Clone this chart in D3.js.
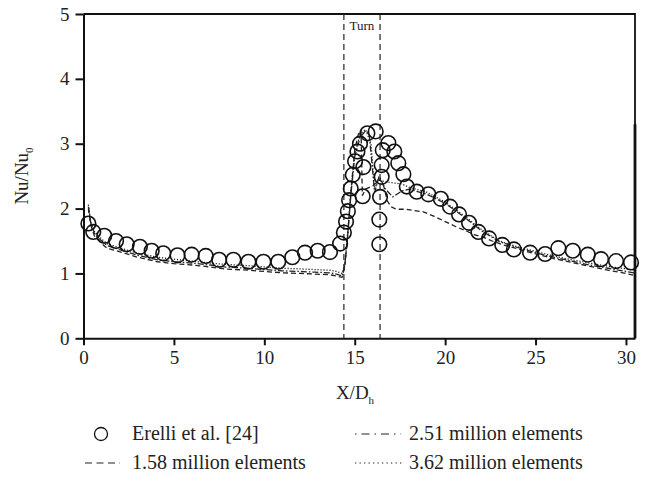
<!DOCTYPE html>
<meta charset="utf-8">
<title>Nu/Nu0 grid study</title>
<style>
body { margin: 0; background: #fff; }
svg text { font-family: "Liberation Serif", "Times New Roman", Tinos, "DejaVu Serif", "Noto Serif", serif; fill: #222; }
</style>
<body>
<script src="https://cdn.jsdelivr.net/npm/d3@7"></script>
<script>
var width = 647, height = 477;
var serif = '"Liberation Serif", "Times New Roman", Tinos, "DejaVu Serif", "Noto Serif", serif';

// Erelli et al. [24] (circles)
var expX = [0.27, 0.54, 1.15, 1.8, 2.39, 3.12, 3.77, 4.41, 5.2, 5.98, 6.76, 7.5, 8.29, 9.12, 9.95, 10.77,
  11.55, 12.25, 12.95, 13.63, 14.19, 14.4, 14.52, 14.62, 14.69, 14.78, 14.89, 15.02, 15.15, 15.29, 15.48,
  15.44, 15.7, 16.16, 16.49, 16.49, 16.4, 16.36, 16.36, 16.55, 16.86, 17.19, 17.41, 17.69, 17.88, 18.43,
  19.07, 19.76, 20.27, 20.77, 21.32, 21.84, 22.43, 23.16, 23.8, 24.7, 25.53, 26.26, 27.06, 27.89, 28.62,
  29.45, 30.28];
var expY = [1.77, 1.64, 1.58, 1.5, 1.45, 1.41, 1.35, 1.31, 1.28, 1.29, 1.27, 1.21, 1.21, 1.18, 1.18, 1.18,
  1.25, 1.32, 1.35, 1.33, 1.46, 1.63, 1.8, 1.96, 2.13, 2.31, 2.52, 2.73, 2.88, 3.0, 2.64,
  2.19, 3.16, 3.19, 2.67, 2.49, 2.18, 1.83, 1.45, 2.9, 3.01, 2.88, 2.7, 2.53, 2.34, 2.26,
  2.22, 2.15, 2.03, 1.91, 1.78, 1.64, 1.54, 1.44, 1.37, 1.32, 1.3, 1.39, 1.35, 1.29, 1.22,
  1.19, 1.17];

// 1.58 million elements (dashed)
var m158X = [0.27, 0.4, 0.6, 1.0, 1.3, 2.3, 3.0, 4.1, 5.0, 6.0, 7.0, 7.8, 9.1, 10.0, 11.0, 12.0, 12.8, 13.6,
  14.0, 14.3, 14.45, 14.6, 14.8, 15.0, 15.2, 15.35, 15.42, 15.6, 16.0, 16.4, 16.6, 16.8, 17.0, 17.3, 17.8,
  18.3, 18.8, 19.4, 20.0, 20.6, 21.2, 21.6, 22.1, 22.6, 23.2, 24.0, 25.0, 26.0, 27.0, 28.0, 29.0, 30.0, 30.45];
var m158Y = [2.0, 1.75, 1.58, 1.46, 1.39, 1.31, 1.25, 1.18, 1.15, 1.13, 1.1, 1.07, 1.05, 1.03, 1.01, 1.0, 0.99, 0.98,
  0.96, 0.94, 1.1, 1.55, 2.3, 2.9, 3.15, 3.2, 2.2, 2.3, 2.35, 2.45, 2.35, 2.12, 2.03, 1.99, 1.99,
  1.97, 1.95, 1.88, 1.8, 1.72, 1.65, 1.6, 1.56, 1.5, 1.44, 1.38, 1.3, 1.23, 1.17, 1.11, 1.05, 1.0, 0.97];

// 2.51 million elements (dash-dot)
var m251X = [0.27, 0.4, 0.6, 1.0, 1.3, 2.3, 3.0, 4.1, 5.0, 6.0, 7.0, 7.8, 9.1, 10.0, 11.0, 12.0, 12.8, 13.6,
  14.0, 14.3, 14.45, 14.6, 14.8, 15.0, 15.3, 15.6, 15.8, 16.1, 16.35, 16.7, 17.1, 17.6, 18.0, 19.0, 20.0,
  21.0, 22.0, 23.0, 24.0, 25.0, 26.0, 27.0, 28.0, 29.0, 30.0, 30.45];
var m251Y = [2.03, 1.78, 1.62, 1.5, 1.43, 1.34, 1.28, 1.21, 1.18, 1.16, 1.13, 1.1, 1.08, 1.06, 1.04, 1.03, 1.02, 1.01,
  0.99, 0.96, 1.12, 1.55, 2.25, 2.8, 3.1, 3.2, 3.15, 2.25, 2.5, 2.3, 2.18, 2.27, 2.3, 2.22, 2.08,
  1.88, 1.66, 1.49, 1.4, 1.32, 1.25, 1.19, 1.13, 1.08, 1.03, 1.01];

// 3.62 million elements (dotted)
var m362X = [0.27, 0.4, 0.6, 1.0, 1.3, 2.3, 3.0, 4.1, 5.0, 6.0, 7.0, 7.8, 9.1, 10.0, 11.0, 12.0, 12.8, 13.6,
  14.0, 14.3, 14.45, 14.6, 14.8, 15.0, 15.3, 15.6, 15.9, 16.1, 16.3, 16.6, 17.0, 17.6, 18.0, 19.0, 20.0,
  21.0, 22.0, 23.0, 24.0, 25.0, 26.0, 27.0, 28.0, 29.0, 30.0, 30.45];
var m362Y = [2.06, 1.8, 1.65, 1.53, 1.46, 1.37, 1.31, 1.25, 1.22, 1.19, 1.16, 1.14, 1.12, 1.1, 1.08, 1.07, 1.06, 1.05,
  1.03, 1.0, 1.15, 1.6, 2.3, 2.85, 3.15, 3.22, 3.0, 2.3, 2.45, 2.42, 2.4, 2.38, 2.33, 2.25, 2.1,
  1.9, 1.68, 1.5, 1.41, 1.34, 1.27, 1.21, 1.16, 1.11, 1.07, 1.05];

var turnX = [14.4, 16.4];
var xTicks = [0, 5, 10, 15, 20, 25, 30];
var yTicks = [0, 1, 2, 3, 4, 5];

var svg = d3.select('body').append('svg')
    .attr('width', width)
    .attr('height', height)
    .attr('font-family', serif);

var x = d3.scaleLinear().domain([0, 30.5]).range([83.5, 635]);
var y = d3.scaleLinear().domain([0, 5]).range([338.3, 14]);

// frame (top + right)
svg.append('path')
    .attr('d', 'M' + x(0) + ',' + y(5) + 'H' + x(30.5) + 'V' + y(0))
    .attr('fill', 'none')
    .attr('stroke', '#111')
    .attr('stroke-width', 1.8);
svg.append('line')
    .attr('x1', x(30.5)).attr('x2', x(30.5))
    .attr('y1', y(3.3)).attr('y2', y(0))
    .attr('stroke', '#111')
    .attr('stroke-width', 2.8);

// turn region
svg.selectAll('line.turn')
    .data(turnX)
  .enter().append('line')
    .attr('class', 'turn')
    .attr('x1', function(d) { return x(d); })
    .attr('x2', function(d) { return x(d); })
    .attr('y1', y(5))
    .attr('y2', y(0))
    .attr('stroke', '#222')
    .attr('stroke-width', 1.2)
    .attr('stroke-dasharray', '6,4');
svg.append('text')
    .attr('x', (x(turnX[0]) + x(turnX[1])) / 2)
    .attr('y', 30)
    .attr('text-anchor', 'middle')
    .attr('font-size', 13)
    .text('Turn');

var line = d3.line()
    .x(function(d) { return x(d[0]); })
    .y(function(d) { return y(d[1]); });

var series = [
  { xs: m158X, ys: m158Y, dash: '5,3' },
  { xs: m251X, ys: m251Y, dash: '6,2,1.5,2' },
  { xs: m362X, ys: m362Y, dash: '1.2,1.8' }
];
series.forEach(function(s) {
  svg.append('path')
      .datum(d3.zip(s.xs, s.ys))
      .attr('d', line)
      .attr('fill', 'none')
      .attr('stroke', '#222')
      .attr('stroke-width', 1.3)
      .attr('stroke-dasharray', s.dash);
});

svg.selectAll('circle.exp')
    .data(d3.zip(expX, expY))
  .enter().append('circle')
    .attr('class', 'exp')
    .attr('cx', function(d) { return x(d[0]); })
    .attr('cy', function(d) { return y(d[1]); })
    .attr('r', 7.3)
    .attr('fill', 'none')
    .attr('stroke', '#111')
    .attr('stroke-width', 1.6);

// axes
var xAxis = svg.append('g')
    .attr('transform', 'translate(0,' + y(0) + ')')
    .call(d3.axisBottom(x).tickValues(xTicks).tickFormat(d3.format('d'))
      .tickSize(7).tickSizeOuter(0).tickPadding(5));
var yAxis = svg.append('g')
    .attr('transform', 'translate(' + x(0) + ',0)')
    .call(d3.axisLeft(y).tickValues(yTicks).tickFormat(d3.format('d'))
      .tickSize(8).tickSizeOuter(0).tickPadding(6));
[xAxis, yAxis].forEach(function(g) {
  g.attr('font-family', serif).attr('font-size', 19);
  g.select('.domain').attr('stroke', '#111').attr('stroke-width', 2);
  g.selectAll('.tick line').attr('stroke', '#111').attr('stroke-width', 2);
  g.selectAll('.tick text').attr('fill', '#222');
});

// axis titles
var xt = svg.append('text')
    .attr('x', 355)
    .attr('y', 399)
    .attr('text-anchor', 'middle')
    .attr('font-size', 19);
xt.append('tspan').text('X/D');
xt.append('tspan').attr('font-size', 11).attr('dy', 5).text('h');

var yt = svg.append('text')
    .attr('transform', 'translate(28,176) rotate(-90)')
    .attr('text-anchor', 'middle')
    .attr('font-size', 19);
yt.append('tspan').text('Nu/Nu');
yt.append('tspan').attr('font-size', 11).attr('dy', 5).text('0');

// legend
var leg = svg.append('g');
leg.append('circle')
    .attr('cx', 101).attr('cy', 434).attr('r', 6.5)
    .attr('fill', 'none').attr('stroke', '#111').attr('stroke-width', 1.3);
leg.append('text').attr('x', 132).attr('y', 440).attr('font-size', 20).text('Erelli et al. [24]');
var legLines = [
  { x1: 85, x2: 120, yy: 463, dash: '7,4.5', label: '1.58 million elements', tx: 132 },
  { x1: 355, x2: 401, yy: 434, dash: '1.5,5,8,5', label: '2.51 million elements', tx: 409 },
  { x1: 355, x2: 403, yy: 463, dash: '1.3,3.2', label: '3.62 million elements', tx: 409 }
];
legLines.forEach(function(l) {
  leg.append('line')
      .attr('x1', l.x1).attr('x2', l.x2).attr('y1', l.yy).attr('y2', l.yy)
      .attr('stroke', '#222').attr('stroke-width', 1.2)
      .attr('stroke-dasharray', l.dash);
  leg.append('text').attr('x', l.tx).attr('y', l.yy + 6).attr('font-size', 20).text(l.label);
});
</script>
</body>
